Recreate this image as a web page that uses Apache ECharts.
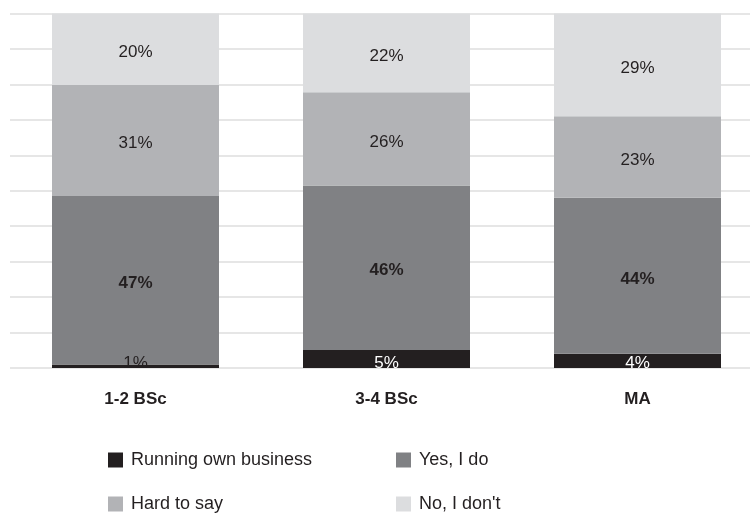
<!DOCTYPE html>
<html>
<head>
<meta charset="utf-8">
<script src="https://cdn.jsdelivr.net/npm/echarts@6/dist/echarts.min.js"></script>
<style>
  html, body { margin: 0; padding: 0; background: #fff; }
  #chart { width: 750px; height: 515px; }
</style>
</head>
<body>
<div id="chart"></div>
<script>
const categories = ['1-2 BSc', '3-4 BSc', 'MA']
const runningOwn = [1, 5, 4]
const yesIDo = [47, 46, 44]
const hardToSay = [31, 26, 23]
const noIDont = [20, 22, 29]

const seriesNames = ['Running own business', 'Yes, I do', 'Hard to say', "No, I don't"]
const seriesValues = [runningOwn, yesIDo, hardToSay, noIDont]
const colors = ['#231f20', '#808184', '#b2b3b6', '#dcdddf']

// each bar is drawn as share of its own total (100% stacked)
const totals = categories.map((c, i) => seriesValues.reduce((s, arr) => s + arr[i], 0))

const font = '"Liberation Sans", Arial, sans-serif'

function labelFor (idx) {
  const base = {
    show: true,
    fontFamily: font,
    fontSize: 17,
    color: '#231f20',
    formatter: p => seriesValues[idx][p.dataIndex] + '%'
  }
  if (idx === 0) {
    return Object.assign(base, { position: 'insideBottom', distance: 0, offset: [0, 4] })
  }
  if (idx === 1) base.fontWeight = 'bold'
  return Object.assign(base, { position: 'inside', offset: [0, 3] })
}

const series = seriesNames.map((name, idx) => ({
  name: name,
  type: 'bar',
  stack: 'total',
  barWidth: 167,
  itemStyle: { color: colors[idx] },
  label: labelFor(idx),
  data: seriesValues[idx].map((v, i) => {
    const d = { value: v / totals[i] * 100 }
    if (idx === 0 && v >= 3) d.label = { color: '#ffffff' }
    return d
  })
}))

// one legend per item so the two columns line up
const legendPos = [[108, 451], [396, 451], [108, 495], [396, 495]]
const legends = seriesNames.map((name, i) => ({
  orient: 'horizontal',
  left: legendPos[i][0],
  top: legendPos[i][1],
  padding: 0,
  itemWidth: 15,
  itemHeight: 15,
  icon: 'rect',
  selectedMode: false,
  textStyle: { fontFamily: font, fontSize: 18, color: '#231f20', padding: [0, 0, 0, 3] },
  data: [name]
}))

const chart = echarts.init(document.getElementById('chart'))
chart.setOption({
  animation: false,
  backgroundColor: '#fff',
  grid: { left: 10, right: -13, top: 13.5, bottom: 147, containLabel: false, outerBoundsMode: 'none' },
  legend: legends,
  xAxis: {
    type: 'category',
    data: categories,
    axisLine: { show: false },
    axisTick: { show: false },
    axisLabel: { fontFamily: font, fontSize: 17, fontWeight: 'bold', color: '#231f20', margin: 23 }
  },
  yAxis: {
    type: 'value',
    min: 0,
    max: 100,
    interval: 10,
    axisLabel: { show: false },
    axisLine: { show: false },
    axisTick: { show: false },
    splitLine: { lineStyle: { color: '#dedede', width: 1.5 } }
  },
  series: series
})
</script>
</body>
</html>
